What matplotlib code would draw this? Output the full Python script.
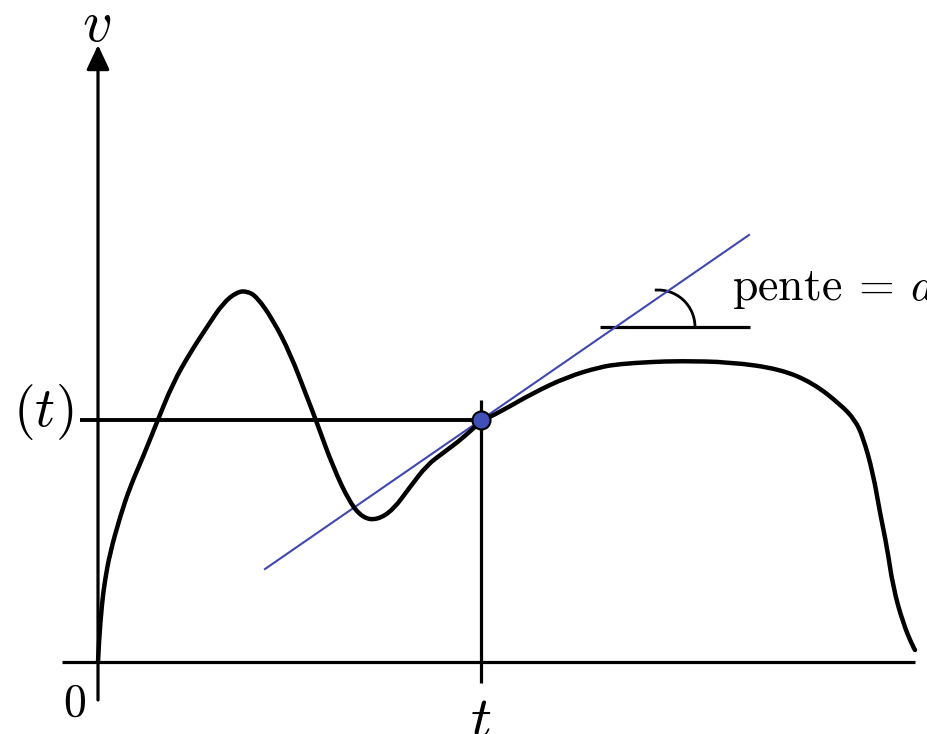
import matplotlib.pyplot as plt
from matplotlib.patches import Arc, PathPatch
from matplotlib.path import Path

plt.rcParams['mathtext.fontset'] = 'cm'

# courbe v(t) (unites arbitraires, origine au coin des axes)
curve_t = [0, 1, 4, 7, 12, 22, 32, 45, 59, 75, 92, 109, 125, 139, 149, 159,
           175, 192, 209, 219, 235, 252, 265, 279, 295, 312, 329, 345, 365,
           383, 402, 435, 469, 502, 522, 552, 582, 632, 682, 715, 743, 757,
           765, 775, 782, 789, 795, 805, 815, 817]
curve_v = [0, 22, 59, 82, 109, 145, 175, 205, 240, 279, 309, 335, 359, 370,
           371, 365, 342, 309, 265, 239, 195, 159, 144, 142, 152, 175, 197,
           209, 224, 241, 250, 269, 285, 295, 298, 300, 301, 300, 293, 279,
           257, 242, 225, 189, 149, 115, 75, 39, 15, 12]

# point de tangence et tangente
t0 = 383
v0 = 242
tangent_t = [167, 651]
tangent_v = [93, 427]

fig = plt.figure(figsize=(9.27, 7.34), dpi=100)
ax = fig.add_axes([0, 0, 1, 1])
ax.set_xlim(-98, 829)
ax.set_ylim(-72, 662)
ax.axis('off')

# axes
ax.plot([-36, 817], [0, 0], color='black', lw=2.3, solid_capstyle='butt')
ax.annotate('', xy=(0, 617), xytext=(0, -38),
            arrowprops=dict(arrowstyle='-|>,head_length=0.6,head_width=0.28',
                            mutation_scale=25, color='black', lw=2.3,
                            shrinkA=0, shrinkB=0))

# lignes de repere
ax.plot([-18, t0], [v0, v0], color='black', lw=2.8, solid_capstyle='butt')
ax.plot([t0, t0], [-21, 262], color='black', lw=2.3, solid_capstyle='butt')

# tangente
ax.plot(tangent_t, tangent_v, color='#4048b0', lw=1.5, zorder=3)

# courbe lissee (bezier quadratiques, points lus comme points de controle)
pts = list(zip(curve_t, curve_v))
verts = [pts[0]]
codes = [Path.MOVETO]
for i in range(1, len(pts) - 1):
    nxt = pts[i + 1] if i == len(pts) - 2 else (
        (pts[i][0] + pts[i + 1][0]) / 2, (pts[i][1] + pts[i + 1][1]) / 2)
    verts += [pts[i], nxt]
    codes += [Path.CURVE3, Path.CURVE3]
ax.add_patch(PathPatch(Path(verts, codes), fill=False, edgecolor='black',
                       lw=3.2, zorder=4, joinstyle='round', capstyle='round'))

# point
ax.plot([t0], [v0], 'o', ms=13, mfc='#4050b8', mec='black', mew=1.5, zorder=5)

# indication de la pente
ax.plot([502, 652], [335, 335], color='black', lw=2.3, solid_capstyle='butt')
ax.add_patch(Arc((560, 335), 74, 74, theta1=0, theta2=95, color='black', lw=2))
ax.text(634, 362, r'$\mathrm{pente}\:=\:a$', fontsize=33, va='baseline', ha='left')

# etiquettes
ax.text(-1, 637, r'$v$', fontsize=42, ha='center', va='center')
ax.text(-25, 250, r'$v\;(t)$', fontsize=40, ha='right', va='center')
ax.text(-23, -41, r'$0$', fontsize=33, ha='center', va='center')
ax.text(t0, -30, r'$t$', fontsize=42, ha='center', va='top')

fig.savefig('out.png', dpi=100)
